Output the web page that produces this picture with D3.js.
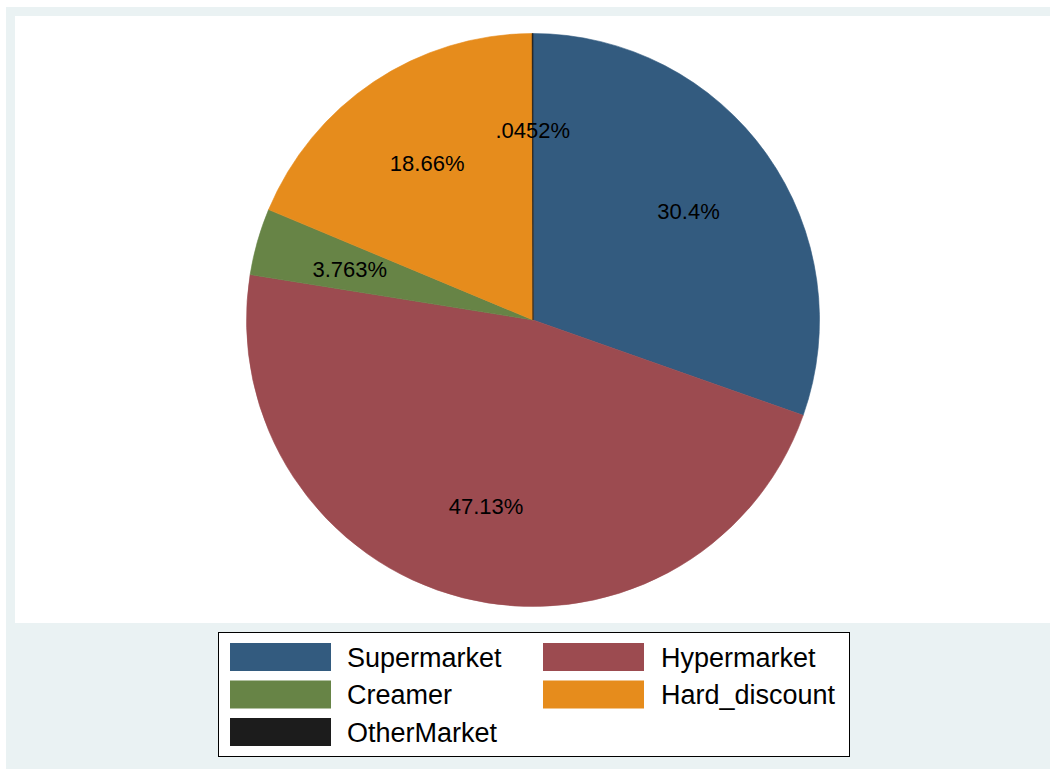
<!DOCTYPE html>
<html>
<head>
<meta charset="utf-8">
<script src="https://cdn.jsdelivr.net/npm/d3@7"></script>
<style>
html,body{margin:0;padding:0;background:#fff;}
svg{display:block;font-family:"Liberation Sans",Arial,Helvetica,sans-serif;}
</style>
</head>
<body>
<svg id="chart" width="1050" height="769"></svg>
<script>
const categories = ["Supermarket", "Hypermarket", "Creamer", "Hard_discount", "OtherMarket"];
const values = [30.4, 47.13, 3.763, 18.66, 0.0452];
const colors = ["#335B7F", "#9C4B50", "#678446", "#E68C1C", "#1C1C1C"];

const svg = d3.select("#chart");
const W = 1050, H = 769;

// backgrounds
svg.append("rect").attr("x", 6).attr("y", 7).attr("width", W - 6).attr("height", H - 7).attr("fill", "#EAF2F3");
svg.append("rect").attr("x", 15).attr("y", 16).attr("width", W - 15).attr("height", 623 - 16).attr("fill", "#ffffff");

const cx = 533, cy = 320, r = 286.5;
const pie = d3.pie().sort(null).value(d => d.v).startAngle(0).endAngle(2 * Math.PI);
const data = categories.map((c, i) => ({c, v: values[i], col: colors[i]}));
const arcs = pie(data);
const arc = d3.arc().innerRadius(0).outerRadius(r);
const labelArc = d3.arc().innerRadius(r * 0.665).outerRadius(r * 0.665);

const g = svg.append("g").attr("transform", `translate(${cx},${cy})`);
g.selectAll("path.slice").data(arcs).enter().append("path")
  .attr("class", "slice")
  .attr("d", arc)
  .attr("fill", d => d.data.col)
  .attr("stroke", d => d.data.col)
  .attr("stroke-width", 0.6);

const fmt = v => d3.format(".4~g")(v).replace(/^0\./, ".") + "%";
g.selectAll("text.lab").data(arcs).enter().append("text")
  .attr("class", "lab")
  .attr("x", d => labelArc.centroid(d)[0])
  .attr("y", d => labelArc.centroid(d)[1] + 1.5)
  .attr("text-anchor", "middle")
  .attr("dominant-baseline", "central")
  .attr("font-size", 22)
  .attr("fill", "#000")
  .text(d => fmt(d.data.v));

// legend
const lg = svg.append("g");
lg.append("rect").attr("x", 218.5).attr("y", 632.5).attr("width", 631).attr("height", 124)
  .attr("fill", "#fff").attr("stroke", "#000").attr("stroke-width", 1);
const colKeyX = [230, 543], colTextX = [347, 661], rowY = [643, 680.5, 718];
data.forEach((d, i) => {
  const col = i % 2, row = Math.floor(i / 2);
  lg.append("rect").attr("x", colKeyX[col]).attr("y", rowY[row]).attr("width", 101).attr("height", 28)
    .attr("fill", d.col);
  lg.append("text").attr("x", colTextX[col]).attr("y", rowY[row] + 14.5)
    .attr("dominant-baseline", "central").attr("font-size", 27).attr("fill", "#000")
    .text(d.c);
});
</script>
</body>
</html>
